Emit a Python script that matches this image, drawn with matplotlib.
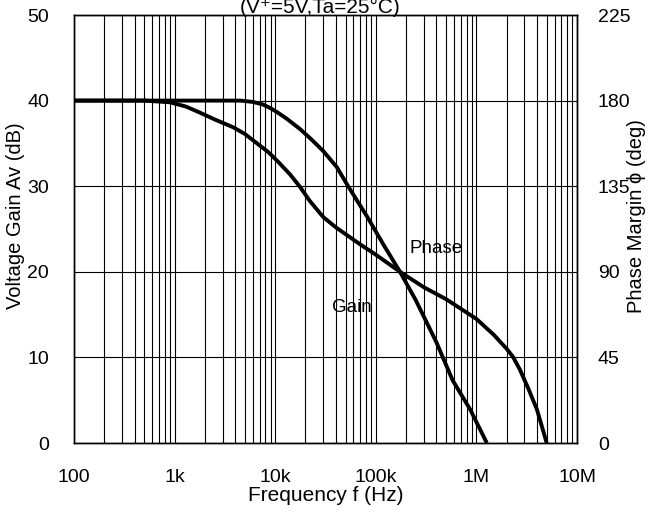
import numpy as np
import matplotlib
matplotlib.use("Agg")
import matplotlib.pyplot as plt
from matplotlib.ticker import FixedLocator, NullFormatter

plt.rcParams['font.family'] = ['Liberation Sans', 'DejaVu Sans']

# steep curve (phase margin, deg, right axis)
phase_freq = [100, 1e3, 4.5e3, 6e3, 7.5e3, 9e3, 10.4e3, 13e3, 17.7e3, 23e3, 30e3,
              41e3, 51e3, 65e3, 82e3, 120e3, 174e3, 250e3, 400e3, 580e3,
              870e3, 1.27e6]
phase_deg = [180, 180, 180, 179.3, 178, 176, 174, 170.5, 165, 159.5, 153.5,
             145, 136.5, 127.5, 119, 104, 90, 75, 53, 33,
             17.5, 0]

# gradual curve (voltage gain, dB, left axis)
gain_freq = [100, 500, 900, 1.3e3, 1.78e3, 2.5e3, 3.8e3, 5e3, 6.6e3, 8.5e3,
             10.4e3, 14e3, 17.7e3, 22e3, 30e3, 40e3, 50e3, 70e3, 100e3, 174e3,
             300e3, 500e3, 1e6, 1.5e6, 2e6, 2.3e6, 2.7e6, 3.3e6, 4e6, 5e6]
gain_db = [40, 40, 39.8, 39.3, 38.6, 37.8, 36.9, 36.1, 35.0, 34.0,
           33.0, 31.4, 29.9, 28.3, 26.4, 25.2, 24.4, 23.2, 22.0, 20.0,
           18.2, 16.8, 14.5, 12.6, 11.0, 10.1, 8.6, 6.3, 3.9, 0]

xticks = [1e2, 1e3, 1e4, 1e5, 1e6, 1e7]
xlabels = ['100', '1k', '10k', '100k', '1M', '10M']
left_ticks = [0, 10, 20, 30, 40, 50]
right_ticks = [0, 45, 90, 135, 180, 225]

fig = plt.figure(figsize=(6.5, 5.14), dpi=100)
ax = fig.add_axes([74 / 650, 1 - 443 / 514, (577 - 74) / 650, (443 - 15) / 514])
ax2 = ax.twinx()

ax.set_xscale('log')
ax.set_xlim(1e2, 1e7)
ax.set_ylim(0, 50)
ax2.set_ylim(0, 225)

minor = [m * 10 ** e for e in range(2, 7) for m in range(2, 10)]
ax.xaxis.set_major_locator(FixedLocator(xticks))
ax.xaxis.set_minor_locator(FixedLocator(minor))
ax.xaxis.set_minor_formatter(NullFormatter())
ax.set_xticklabels(xlabels)
ax.set_yticks(left_ticks)
ax2.set_yticks(right_ticks)

ax.grid(True, which='both', axis='x', color='black', linewidth=0.8)
ax.grid(True, which='major', axis='y', color='black', linewidth=0.8)

ax.tick_params(axis='both', which='both', length=0, labelsize=14)
ax.tick_params(axis='x', pad=19)
ax.tick_params(axis='y', pad=18)
ax2.tick_params(axis='y', length=0, labelsize=14, pad=15)

for a in (ax, ax2):
    for s in a.spines.values():
        s.set_linewidth(1.0)
        s.set_color('black')

ax.plot(gain_freq, gain_db, color='black', linewidth=2.8,
        solid_capstyle='butt', solid_joinstyle='round')
ax2.plot(phase_freq, phase_deg, color='black', linewidth=2.8,
         solid_capstyle='butt', solid_joinstyle='round')

ax.set_xlabel('Frequency f (Hz)', fontsize=15, labelpad=0)
ax.set_ylabel('Voltage Gain Av (dB)', fontsize=14.5)
ax.yaxis.set_label_coords(-0.098, 0.53)
ax2.set_ylabel('Phase Margin ϕ (deg)', fontsize=14.5)
ax2.yaxis.set_label_coords(1.100, 0.53)

ax.text(4.0e5, 22.7, 'Phase', fontsize=13.5, ha='center', va='center')
ax.text(5.8e4, 15.8, 'Gain', fontsize=13.5, ha='center', va='center')

fig.text(320 / 650, 1 - 13 / 514, '(V⁺=5V,Ta=25°C)', fontsize=15,
         ha='center', va='baseline')

fig.savefig('out.png', dpi=100)
